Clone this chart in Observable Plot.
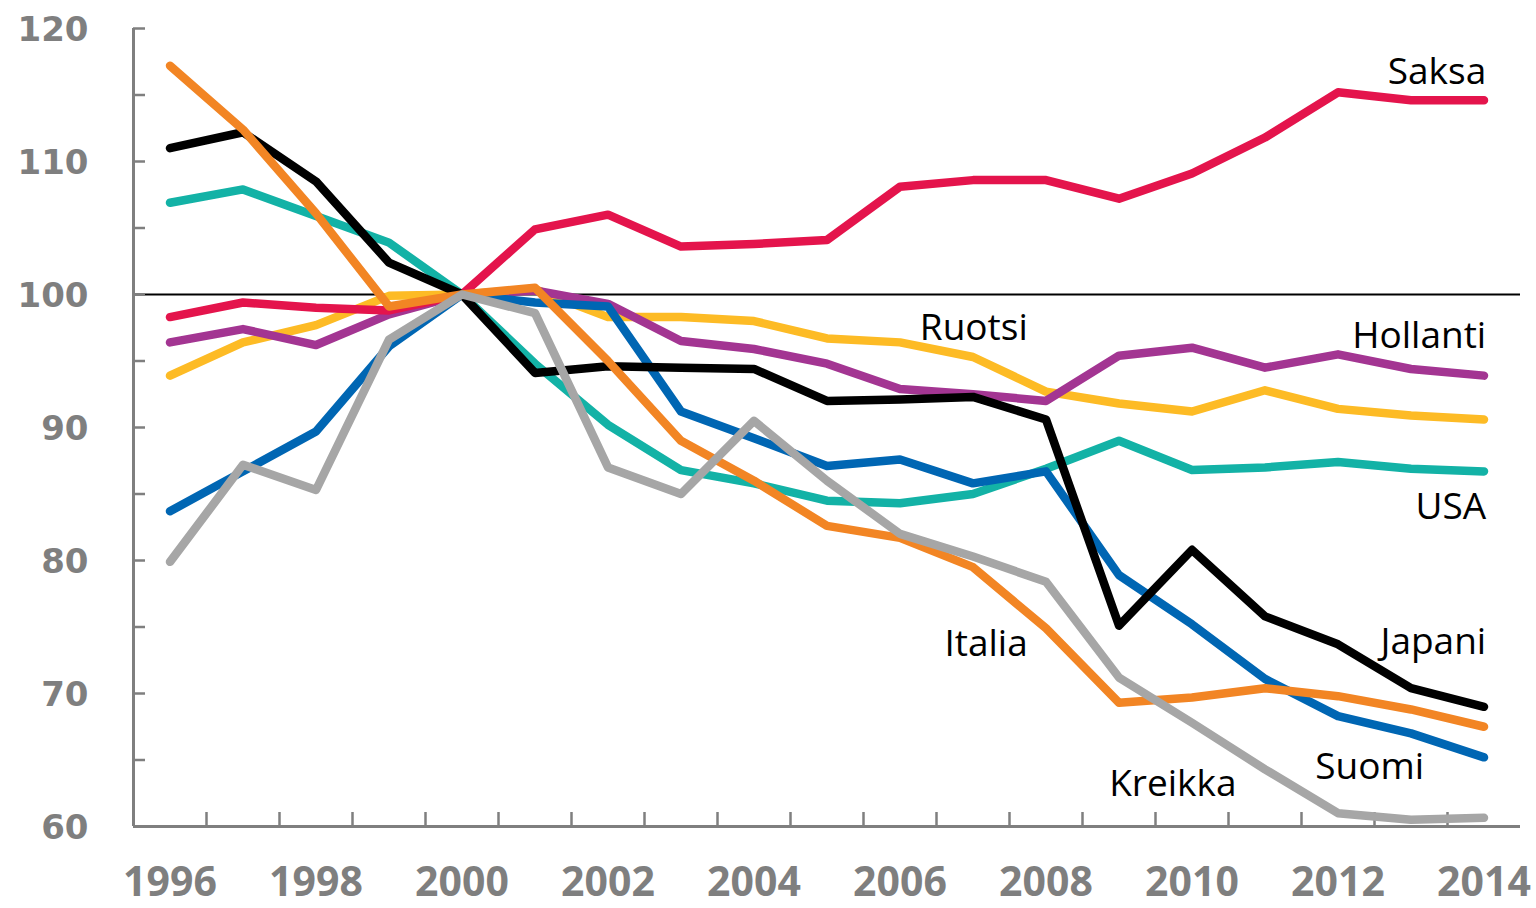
<!DOCTYPE html>
<html>
<head>
<meta charset="utf-8">
<script src="https://cdn.jsdelivr.net/npm/d3@7"></script>
<script src="https://cdn.jsdelivr.net/npm/@observablehq/plot@0.6"></script>
<style>
  body { margin: 0; background: #fff; }
  #chart svg { display: block; }
</style>
</head>
<body>
<div id="chart"></div>
<script>
const years = [1996,1997,1998,1999,2000,2001,2002,2003,2004,2005,2006,2007,2008,2009,2010,2011,2012,2013,2014];

const usa      = [106.9,107.9,105.9,103.9,100,94.8,90.2,86.8,85.8,84.5,84.3,85.0,86.9,89.0,86.8,87.0,87.4,86.9,86.7];
const ruotsi   = [93.9,96.4,97.7,99.9,100,100.4,98.3,98.3,98.0,96.7,96.4,95.3,92.7,91.8,91.2,92.8,91.4,90.9,90.6];
const hollanti = [96.4,97.4,96.2,98.5,100,100.3,99.3,96.5,95.9,94.8,92.9,92.5,92.0,95.4,96.0,94.5,95.5,94.4,93.9];
const saksa    = [98.3,99.4,99.0,98.8,100,104.9,106.0,103.6,103.8,104.1,108.1,108.6,108.6,107.2,109.1,111.8,115.2,114.6,114.6];
const suomi    = [83.7,86.7,89.7,96.1,100,99.4,99.1,91.2,89.2,87.1,87.6,85.8,86.7,78.9,75.2,71.1,68.3,67.0,65.2];
const japani   = [111.0,112.2,108.5,102.4,100,94.1,94.6,94.5,94.4,92.0,92.1,92.3,90.6,75.1,80.8,75.8,73.7,70.4,69.0];
const italia   = [117.2,112.4,106.1,99.1,100,100.5,95.0,89.0,86.0,82.6,81.7,79.5,74.9,69.3,69.7,70.4,69.8,68.8,67.5];
const kreikka  = [79.9,87.2,85.3,96.6,100,98.6,87.0,85.0,90.5,86.0,82.0,80.3,78.4,71.2,67.8,64.3,61.0,60.5,60.65];

const countries = ["USA","Ruotsi","Hollanti","Saksa","Suomi","Japani","Italia","Kreikka"];
const colors    = ["#13B2A6","#FDBB25","#A33592","#E4144C","#0066B3","#000000","#F28524","#A6A6A6"];
const valuesByCountry = [usa, ruotsi, hollanti, saksa, suomi, japani, italia, kreikka];

const yTickLabels = [60,70,80,90,100,110,120];
const yTickMarks = [60,65,70,75,80,85,90,95,100,105,110,115,120];
const xTickLabels = [1996,1998,2000,2002,2004,2006,2008,2010,2012,2014];
const xBoundaries = d3.range(1996.5, 2014.5, 1);
const baseline = [100];

// label anchors (year, value), text right-aligned at anchor, baseline at anchor
const labelText  = ["Saksa","Hollanti","Ruotsi","USA","Japani","Italia","Suomi","Kreikka"];
const labelYear  = [2014.03,2014.03,2007.75,2014.03,2014.03,2007.75,2013.18,2010.61];
const labelValue = [115.8,96.0,96.6,83.1,73.0,72.8,63.6,62.3];

const rows = countries.flatMap((c, k) => valuesByCountry[k].map((v, i) => ({country: c, year: years[i], value: v})));
const labels = labelText.map((t, i) => ({text: t, year: labelYear[i], value: labelValue[i]}));

const axisGray = "#7F7F7F";

const chart = Plot.plot({
  width: 1536,
  height: 908,
  marginLeft: 133,
  marginRight: 16,
  marginTop: 28,
  marginBottom: 82,
  style: {background: "white"},
  x: {domain: [1995.5, 2014.5]},
  y: {domain: [60, 120]},
  color: {domain: countries, range: colors},
  marks: [
    Plot.ruleY(baseline, {stroke: "black", strokeWidth: 2}),
    Plot.axisY({ticks: yTickMarks, tickSize: -12, tickFormat: () => "", color: axisGray, strokeWidth: 2.5, label: null}),
    Plot.axisY({ticks: yTickLabels, tickSize: 0, tickPadding: 45, color: axisGray, label: null,
      fontSize: 34, fontWeight: "bold", fontFamily: "DejaVu Sans", dy: 2}),
    Plot.axisX({ticks: xBoundaries, tickSize: -14, tickFormat: () => "", color: axisGray, strokeWidth: 2.5, label: null}),
    Plot.axisX({ticks: xTickLabels, tickSize: 0, tickPadding: 40, tickFormat: d => String(d), color: axisGray, label: null,
      fontSize: 41, fontWeight: "bold", fontFamily: "Open Sans"}),
    Plot.ruleX([1995.5], {stroke: axisGray, strokeWidth: 3}),
    Plot.ruleY([60], {stroke: axisGray, strokeWidth: 3}),
    Plot.line(rows, {x: "year", y: "value", z: "country", stroke: "country", strokeWidth: 8.5,
      strokeLinecap: "round", strokeLinejoin: "round"}),
    Plot.text(labels, {x: "year", y: "value", text: "text", textAnchor: "end", lineAnchor: "bottom",
      fontSize: 37, fontFamily: "Open Sans", fill: "black"})
  ]
});

document.getElementById("chart").appendChild(chart);
</script>
</body>
</html>
